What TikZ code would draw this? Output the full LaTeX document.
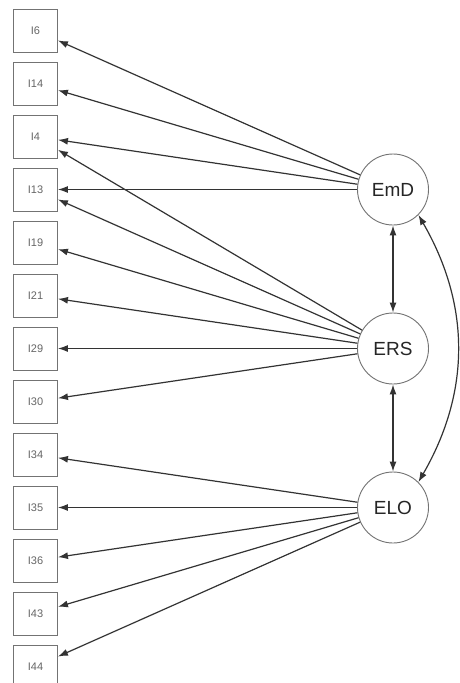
\documentclass[tikz,border=0pt]{standalone}
\usepackage{fontspec}
\setmainfont{Liberation Sans}
\usetikzlibrary{arrows.meta}
\tikzset{
	item/.style = {draw=black!55, line width=0.9pt, minimum width=44pt, minimum height=43pt, inner sep=0pt, font=\fontsize{11}{13}\selectfont, text=black!60},
	factor/.style = {circle, draw=black!55, line width=0.9pt, minimum size=71pt, inner sep=0pt, font=\fontsize{19}{22}\selectfont, text=black!85},
	load/.style = {draw=black!80, line width=1.2pt, -{Latex[length=10pt,width=7pt]}},
	cov/.style = {draw=black!80, line width=1.2pt, {Latex[length=10pt,width=7pt]}-{Latex[length=10pt,width=7pt]}}
}
\begin{document}
\begin{tikzpicture}[x=1pt, y=1pt]
		\useasboundingbox[fill=white] (0,0) rectangle (459,-683);
		% observed items
		\node [item] (i6)  at (35.5,-30.5)  {I6};
		\node [item] (i14) at (35.5,-83.5)  {I14};
		\node [item] (i4)  at (35.5,-136.5) {I4};
		\node [item] (i13) at (35.5,-189.5) {I13};
		\node [item] (i19) at (35.5,-242.5) {I19};
		\node [item] (i21) at (35.5,-295.5) {I21};
		\node [item] (i29) at (35.5,-348.5) {I29};
		\node [item] (i30) at (35.5,-401.5) {I30};
		\node [item] (i34) at (35.5,-454.5) {I34};
		\node [item] (i35) at (35.5,-507.5) {I35};
		\node [item] (i36) at (35.5,-560.5) {I36};
		\node [item] (i43) at (35.5,-613.5) {I43};
		\node [item] (i44) at (35.5,-666.5) {I44};
		% latent factors
		\node [factor] (emd) at (393,-189.5) {EmD};
		\node [factor] (ers) at (393,-348.5) {ERS};
		\node [factor] (elo) at (393,-507.5) {ELO};
		% loadings
		\draw [load] (emd) -- (i6);
		\draw [load] (emd) -- (i14);
		\draw [load] (emd) -- (i4);
		\draw [load] (emd) -- (i13);
		\draw [load] (ers) -- (i4);
		\draw [load] (ers) -- (i13);
		\draw [load] (ers) -- (i19);
		\draw [load] (ers) -- (i21);
		\draw [load] (ers) -- (i29);
		\draw [load] (ers) -- (i30);
		\draw [load] (elo) -- (i34);
		\draw [load] (elo) -- (i35);
		\draw [load] (elo) -- (i36);
		\draw [load] (elo) -- (i43);
		\draw [load] (elo) -- (i44);
		% covariances
		\draw [cov] (emd) -- (ers);
		\draw [cov] (ers) -- (elo);
		\draw [cov] (emd.-45) to[out=-60, in=60] (elo.45);
\end{tikzpicture}
\end{document}
